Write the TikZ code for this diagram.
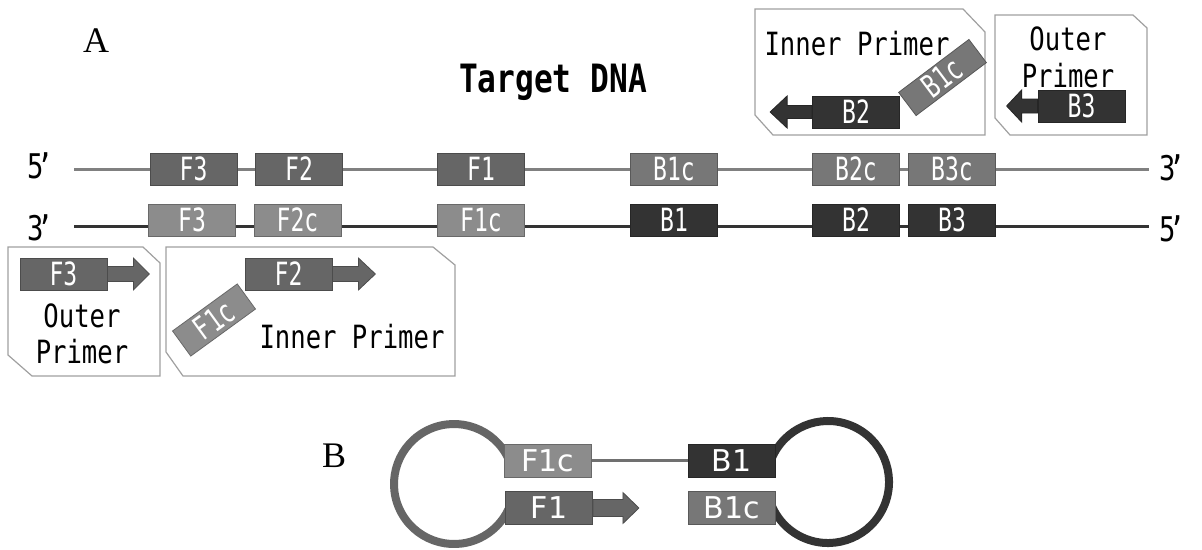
\documentclass[tikz,border=0pt]{standalone}
\usepackage{fontspec}
\newfontfamily\gothic[FakeStretch=0.8]{DejaVu Sans Mono}
\newfontfamily\gothicN[FakeStretch=0.72]{DejaVu Sans Mono}
\newfontfamily\plexish{DejaVu Sans}
\newfontfamily\serifA{Liberation Serif}
\definecolor{cF}{HTML}{666666}
\definecolor{cFc}{HTML}{8C8C8C}
\definecolor{cBc}{HTML}{777777}
\definecolor{cB}{HTML}{333333}
\definecolor{cTop}{HTML}{808080}
\definecolor{cLink}{HTML}{707070}
\definecolor{cFrame}{HTML}{A0A0A0}
\begin{document}
\begin{tikzpicture}[x=1pt,y=1pt,
  seg/.style={minimum width=87pt, minimum height=32pt, inner sep=0pt, line width=0.8pt,
    text=white, font=\gothicN\fontsize{32}{32}\selectfont},
  sF/.style={seg, fill=cF, draw=cF!75!black},
  sFc/.style={seg, fill=cFc, draw=cFc!75!black},
  sBc/.style={seg, fill=cBc, draw=cBc!75!black},
  sB/.style={seg, fill=cB, draw=cB!75!black},
  bfont/.style={font=\plexish\fontsize{30}{30}\selectfont, minimum height=33pt},
  frameb/.style={draw=cFrame, line width=1.2pt, fill=white},
  ptxt/.style={font=\gothic\fontsize{32}{32}\selectfont, anchor=base, inner sep=0pt},
  endlbl/.style={font=\gothic\fontsize{34}{34}\selectfont, anchor=base, inner sep=0pt},
  panel/.style={font=\serifA\fontsize{36}{36}\selectfont, anchor=base west, inner sep=0pt},
  arrF/.style={fill=cF, draw=cF!75!black, line width=0.8pt},
  arrB/.style={fill=cB, draw=cB!75!black, line width=0.8pt},
]
\useasboundingbox (0,0) rectangle (1202,-549);

% panel labels and title
\node[panel] (pA) at (83,-52) {A};
\node[panel] (pB) at (322,-467) {B};
\node[ptxt, font=\gothic\bfseries\fontsize{39}{39}\selectfont] (title) at (553,-92) {Target DNA};

% strands
\coordinate (t5) at (74,-169);
\coordinate (t3) at (1149,-169);
\coordinate (b3) at (74,-226);
\coordinate (b5) at (1149,-226);
\draw[cTop, line width=3pt] (t5) -- (t3);
\draw[cB, line width=3pt] (b3) -- (b5);

\node[endlbl] (l5) at (40,-178) {5\kern-7pt’};
\node[endlbl] (l3) at (40,-240) {3\kern-7pt’};
\node[endlbl] (r3) at (1172,-180) {3\kern-7pt’};
\node[endlbl] (r5) at (1172,-241) {5\kern-7pt’};

% top strand boxes
\node[sF]  (tF3)  at (193.5,-169) {F3};
\node[sF]  (tF2)  at (299,-169)   {F2};
\node[sF]  (tF1)  at (481,-169)   {F1};
\node[sBc] (tB1c) at (674,-169)   {B1c};
\node[sBc] (tB2c) at (856,-169)   {B2c};
\node[sBc] (tB3c) at (952,-169)   {B3c};

% bottom strand boxes
\node[sFc] (bF3)  at (192,-220)   {F3};
\node[sFc] (bF2c) at (297.5,-220) {F2c};
\node[sFc] (bF1c) at (481,-220)   {F1c};
\node[sB]  (bB1)  at (674,-220)   {B1};
\node[sB]  (bB2)  at (856,-220)   {B2};
\node[sB]  (bB3)  at (952,-220)   {B3};

% frames
\draw[frameb] (8,-247) -- (143,-247) -- (160,-263) -- (160,-376) -- (32,-376) -- (8,-355) -- cycle;
\draw[frameb] (166,-247) -- (433,-247) -- (455,-265) -- (455,-376) -- (183,-376) -- (166,-352) -- cycle;
\draw[frameb] (755,-9) -- (963,-9) -- (985,-32) -- (985,-135) -- (773,-135) -- (755,-115) -- cycle;
\draw[frameb] (995,-15) -- (1133,-15) -- (1147,-28) -- (1147,-135) -- (1010,-135) -- (995,-118) -- cycle;

% left outer primer
\node[sF] (pF3) at (63.5,-274) {F3};
\draw[arrF] ([yshift=7.5pt]pF3.east) -- ++(26,0) -- ++(0,8.5) -- ++(16,-16) -- ++(-16,-16) -- ++(0,8.5) -- ([yshift=-7.5pt]pF3.east) -- cycle;
\node[ptxt] (lo1) at (82,-327) {Outer};
\node[ptxt] (lo2) at (82,-363) {Primer};

% left inner primer
\node[sF] (pF2) at (288.5,-274) {F2};
\draw[arrF] ([yshift=7.5pt]pF2.east) -- ++(26,0) -- ++(0,8.5) -- ++(17,-16) -- ++(-17,-16) -- ++(0,8.5) -- ([yshift=-7.5pt]pF2.east) -- cycle;
\node[sFc, rotate=36, minimum width=80pt, minimum height=31pt] (pF1c) at (214,-320) {F1c};
\node[ptxt] (li) at (352,-348) {Inner Primer};

% right inner primer
\node[ptxt] (ri) at (857,-55) {Inner Primer};
\node[sB] (pB2) at (856,-112) {B2};
\draw[arrB] ([yshift=6.5pt]pB2.west) -- ++(-25,0) -- ++(0,9.5) -- ++(-17,-16) -- ++(17,-16) -- ++(0,9.5) -- ([yshift=-6.5pt]pB2.west) -- cycle;
\node[sBc, rotate=37, minimum width=88pt, minimum height=29pt] (pB1c) at (942.5,-77.5) {B1c};

% right outer primer
\node[ptxt] (ro1) at (1068,-50) {Outer};
\node[ptxt] (ro2) at (1068,-87) {Primer};
\node[sB] (pB3) at (1081.5,-106) {B3};
\draw[arrB] ([yshift=7pt]pB3.west) -- ++(-16,0) -- ++(0,9) -- ++(-15,-16) -- ++(15,-16) -- ++(0,9) -- ([yshift=-7pt]pB3.west) -- cycle;

% panel B: dumbbell
\coordinate (lc) at (454,-484);
\coordinate (rc) at (828,-482);
\draw[cF, line width=8pt] ([shift={(25:60pt)}]lc) arc[start angle=25, end angle=335, radius=60pt];
\draw[cB, line width=8pt] ([shift={(158:61pt)}]rc) arc[start angle=158, end angle=-158, radius=61pt];

\node[sFc, bfont] (dF1c) at (548,-460.5) {F1c};
\node[sF,  bfont] (dF1)  at (549,-508)   {F1};
\node[sB,  bfont] (dB1)  at (731.5,-460.5) {B1};
\node[sBc, bfont] (dB1c) at (731.5,-508)   {B1c};
\draw[cLink, line width=3pt] (dF1c.east) -- (dB1.west);
\draw[arrF] ([yshift=8.5pt]dF1.east) -- ++(30,0) -- ++(0,7) -- ++(16,-15.5) -- ++(-16,-15.5) -- ++(0,7) -- ([yshift=-8.5pt]dF1.east) -- cycle;
\end{tikzpicture}
\end{document}
